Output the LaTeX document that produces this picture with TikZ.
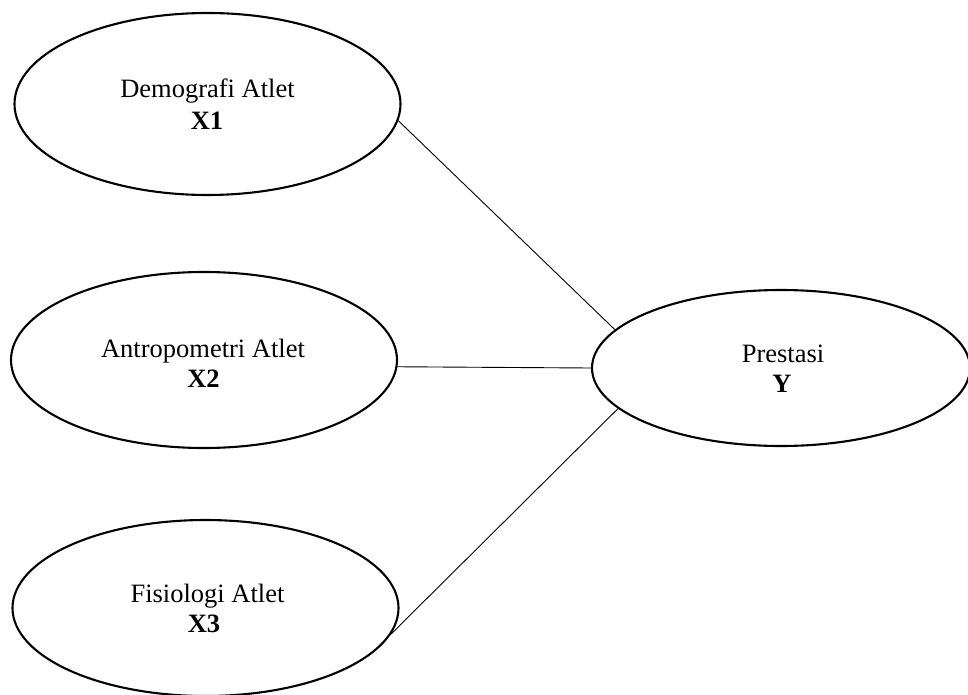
\documentclass[tikz,border=0pt]{standalone}
\usepackage{fontspec}
\setmainfont{Liberation Serif}
\usetikzlibrary{shapes.geometric}
\begin{document}
\begin{tikzpicture}[x=1pt,y=-1pt,
  oval/.style={draw=black, line width=2.1pt, ellipse, inner sep=0pt, minimum width=386pt},
  lbl/.style={anchor=base, inner sep=0pt, font=\fontsize{26.5}{32}\selectfont},
  var/.style={lbl, font=\fontsize{26.5}{32}\selectfont\bfseries},
  link/.style={draw=black, line width=0.9pt}]
\useasboundingbox (0,0) rectangle (968,695);
\clip (0,0) rectangle (968,695);
\fill[white] (0,0) rectangle (968,695);
% ellipses
\node[oval, minimum height=182pt] (x1) at (207.5,104) {};
\node[oval, minimum height=176pt] (x2) at (204,360) {};
\node[oval, minimum height=176pt] (x3) at (205.5,608) {};
\node[oval, minimum width=378pt, minimum height=156pt] (y) at (781,368) {};
% labels
\node[lbl] (t1) at (207.5,98) {Demografi Atlet};
\node[var] (v1) at (207,130) {X1};
\node[lbl] (t2) at (203,357) {Antropometri Atlet};
\node[var] (v2) at (203.5,387) {X2};
\node[lbl] (t3) at (207.5,602) {Fisiologi Atlet};
\node[var] (v3) at (204,632) {X3};
\node[lbl] (ty) at (783,362) {Prestasi};
\node[var] (vy) at (782,392) {Y};
% connectors
\draw[link] (x1.-5) -- (y.167.6);
\draw[link] (x2.-2.7) -- (y.180);
\draw[link] (x3.-8) -- (y.194.3);
\end{tikzpicture}
\end{document}
